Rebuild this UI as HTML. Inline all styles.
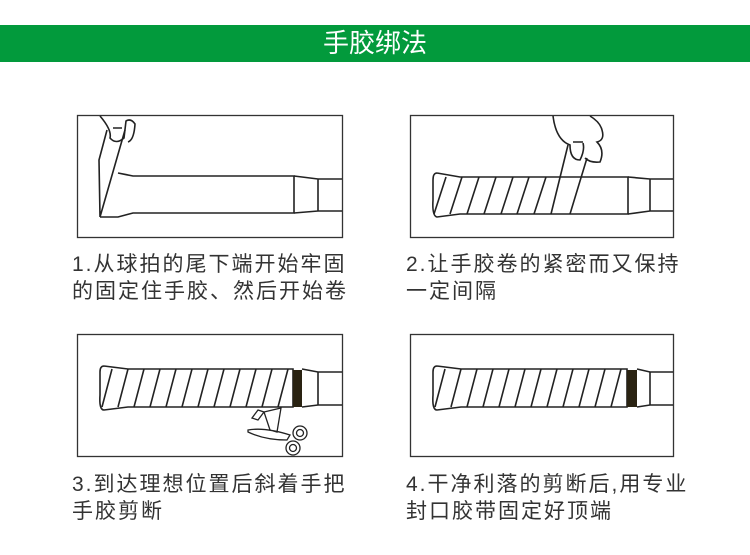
<!DOCTYPE html>
<html><head><meta charset="utf-8"><style>
body{margin:0;width:750px;height:555px;background:#fff;overflow:hidden;position:relative;font-family:"Liberation Sans","Noto Sans CJK SC",sans-serif}
.band{position:absolute;left:0;top:25px;width:750px;height:37px;background:#029a3c;color:#fff;text-align:center;font-size:26px;line-height:37px}
.t{position:absolute;font-size:21px;letter-spacing:2px;color:#333;line-height:27px;white-space:nowrap}
svg{position:absolute;left:0;top:0}
</style></head><body>
<div class="band">手胶绑法</div>
<svg width="750" height="555" fill="none" stroke="#222" stroke-width="1.6">
<g stroke="#333" stroke-width="1.3">
<rect x="77.5" y="115.5" width="265" height="122"/>
<rect x="410.5" y="115.5" width="263" height="122"/>
<rect x="77.5" y="334.5" width="265" height="122"/>
<rect x="410.5" y="334.5" width="263" height="122"/>
</g>
<!-- box1 -->
<path d="M118,173 L133,176 L294,176 L294,213 L133,213 L118,217 L100,217"/>
<path d="M294,176 L318,179 L342,179 M294,213 L318,211 L342,211 M318,179 L318,211"/>
<path d="M100,217 L99,160 L107,130 M100,217 L125,130"/>
<path d="M100,116 Q112,130 110,138 Q116,145 124,138 L126,121 Q131,118 135,124 Q134,140 128,142 M113,128 L122,128"/>
<!-- box2 -->
<path d="M437,173 L460,177 L628,177 L628,214 L460,214 L437,217 Q432,216 433,200 L433,180 Q433,173 437,173"/>
<path d="M628,177 L650,179 L673,179 M628,214 L650,211 L673,211 M650,179 L650,211"/>
<path d="M434,214 L446,177 M450,214 L462,177 M467,214 L479,177 M484,214 L496,177 M501,214 L513,177 M517,214 L529,177 M534,214 L546,177 M551,214 L568,145 M570,214 L587,158"/>
<path d="M553,116 Q556,140 570,145 Q570,160 580,160 Q585,150 583,143 M590,116 Q600,122 602,130 Q605,140 597,142 Q605,150 600,162 Q590,163 585,158 M573,142 L583,142"/>
<!-- box3 -->
<path d="M104,366 L128,369 L293,369 L293,407 L128,407 L104,410 Q99,410 100,395 L100,372 Q100,366 104,366"/>
<path d="M302,369 L318,372 L342,372 M302,407 L318,405 L342,405 M318,372 L318,405"/>
<rect x="293" y="370" width="9" height="37" fill="#2a2312" stroke="none"/>
<path d="M102,407 L112,369 M118,407 L128,369 M134,407 L144,369 M150,407 L160,369 M166,407 L176,369 M182,407 L192,369 M198,407 L208,369 M214,407 L224,369 M230,407 L240,369 M246,407 L256,369 M262,407 L272,369 M278,407 L288,369"/>
<path stroke-width="1.3" d="M258,410 L264,412 L258,420 L252,418 Z M264,412 L281,408 L277,432 L270,430 Z M248,430 Q265,427 290,435 L287,440 Q265,440 248,432 Z"/>
<circle cx="300" cy="433" r="7" stroke-width="1.3"/><circle cx="300" cy="433" r="3.5" stroke-width="1.3"/>
<circle cx="293" cy="448" r="7" stroke-width="1.3"/><circle cx="293" cy="448" r="3.5" stroke-width="1.3"/>
<!-- box4 -->
<path d="M437,366 L461,369 L627,369 L627,407 L461,407 L437,410 Q432,410 433,395 L433,372 Q433,366 437,366"/>
<path d="M637,369 L650,372 L673,372 M637,407 L650,405 L673,405 M650,372 L650,405"/>
<rect x="627" y="370" width="10" height="37" fill="#2a2312" stroke="none"/>
<path d="M435,407 L445,369 M451,407 L461,369 M467,407 L477,369 M483,407 L493,369 M499,407 L509,369 M515,407 L525,369 M531,407 L541,369 M547,407 L557,369 M563,407 L573,369 M579,407 L589,369 M595,407 L605,369 M611,407 L621,369"/>
</svg>
<div class="t" style="left:72px;top:251px">1.从球拍的尾下端开始牢固<br>的固定住手胶、然后开始卷</div>
<div class="t" style="left:406px;top:251px">2.让手胶卷的紧密而又保持<br>一定间隔</div>
<div class="t" style="left:72px;top:471px">3.到达理想位置后斜着手把<br>手胶剪断</div>
<div class="t" style="left:406px;top:471px">4.干净利落的剪断后,用专业<br>封口胶带固定好顶端</div>
</body></html>
